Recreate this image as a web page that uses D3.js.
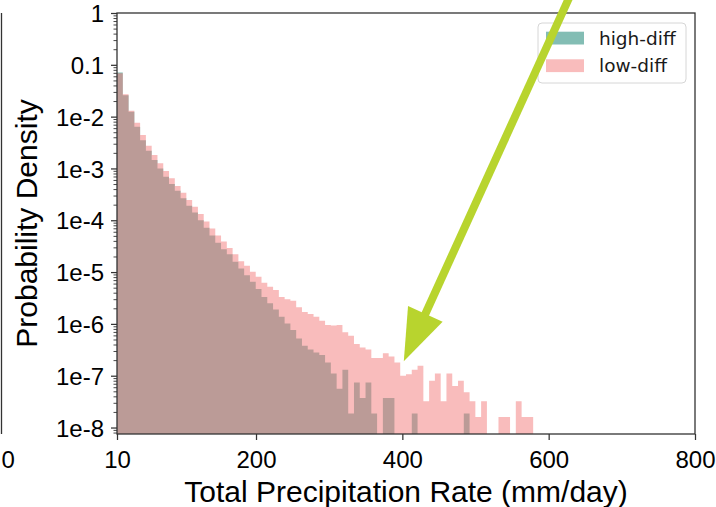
<!DOCTYPE html>
<html>
<head>
<meta charset="utf-8">
<script src="https://cdn.jsdelivr.net/npm/d3@7"></script>
<style>
  body { margin: 0; background: #fff; }
  svg { display: block; }
</style>
</head>
<body>
<div id="chart"></div>
<script>
// histogram: 100 equal bins over 10..800 mm/day, density
const binStart = 10, binEnd = 800, binCount = 100;

const lowDiff = [
  6.9e-2, 2.7e-2, 1.3e-2, 7.6e-3, 4.4e-3, 2.75e-3, 1.82e-3, 1.26e-3, 8.9e-4, 6.5e-4,
  4.6e-4, 3.4e-4, 2.45e-4, 1.82e-4, 1.32e-4, 9.5e-5, 6.9e-5, 5.1e-5, 3.9e-5, 2.9e-5,
  2.2e-5, 1.62e-5, 1.32e-5, 1.02e-5, 8.1e-6, 6.2e-6, 5.2e-6, 4.5e-6, 3.3e-6, 3.0e-6,
  2.8e-6, 2.1e-6, 1.7e-6, 1.55e-6, 1.38e-6, 1.15e-6, 9.5e-7, 9.3e-7, 9.5e-7, 6.9e-7,
  5.9e-7, 4.1e-7, 3.5e-7, 3.2e-7, 2.2e-7, 2.2e-7, 2.7e-7, 2.35e-7, 1.8e-7, 1.0e-7,
  1.07e-7, 1.3e-7, 1.55e-7, 3.2e-8, 8.0e-8, 1.1e-7, 3.2e-8, 1.1e-7, 6.3e-8, 8.0e-8,
  4.8e-8, 3.2e-8, 1.6e-8, 3.2e-8, 0, 0, 1.6e-8, 1.6e-8, 0, 3.2e-8,
  1.6e-8, 1.6e-8
];

const highDiff = [
  7.1e-2, 2.6e-2, 1.24e-2, 6.4e-3, 3.5e-3, 2.2e-3, 1.45e-3, 1.0e-3, 6.9e-4, 5.0e-4,
  3.7e-4, 2.65e-4, 1.9e-4, 1.41e-4, 1.0e-4, 7.2e-5, 5.1e-5, 3.7e-5, 2.75e-5, 2.2e-5,
  1.58e-5, 1.17e-5, 8.7e-6, 6.5e-6, 4.7e-6, 3.3e-6, 2.5e-6, 1.9e-6, 1.38e-6, 1.02e-6,
  7.6e-7, 5.2e-7, 3.8e-7, 3.2e-7, 2.8e-7, 2.5e-7, 1.8e-7, 1.1e-7, 5.6e-8, 1.3e-7,
  1.86e-8, 7.4e-8, 3.7e-8, 7.4e-8, 1.86e-8, 0, 3.7e-8, 3.7e-8, 0, 0,
  0, 1.86e-8, 0, 0, 0, 0, 0, 0, 0, 0,
  1.86e-8
];

const xTickValues = [10, 200, 400, 600, 800];
const yTickValues = [1, 1e-1, 1e-2, 1e-3, 1e-4, 1e-5, 1e-6, 1e-7, 1e-8];
const yTickLabels = ["1", "0.1", "1e-2", "1e-3", "1e-4", "1e-5", "1e-6", "1e-7", "1e-8"];
const seriesNames = ["high-diff", "low-diff"];
const seriesColors = ["rgb(7,123,105)", "rgb(243,121,121)"];

// annotation arrow, in data units
const arrowTail = [636, 3.5];
const arrowTip = [402, 1.9e-7];

const W = 716, H = 507;
const margin = { top: 13, right: 21, bottom: 73, left: 117 };
const font = "'Liberation Sans', Arial, sans-serif";
const ink = "#333";

const svg = d3.select("#chart").append("svg")
  .attr("width", W)
  .attr("height", H);

const x = d3.scaleLinear([binStart, binEnd], [margin.left, W - margin.right]);
const y = d3.scaleLog([7.5e-9, 1], [H - margin.bottom, margin.top]);
const y0 = H - margin.bottom;

const edges = d3.range(binCount + 1).map(i => binStart + i * (binEnd - binStart) / binCount);

function stepArea(vals) {
  const pts = vals.map((v, i) => [edges[i], v]);
  pts.push([edges[vals.length], vals[vals.length - 1]]);
  return d3.area()
    .curve(d3.curveStepAfter)
    .x(d => x(d[0]))
    .y0(y0)
    .y1(d => d[1] > 0 ? y(d[1]) : y0)(pts);
}

// neighbouring panel leftovers at the left edge
svg.append("line")
  .attr("x1", 1.5).attr("x2", 1.5)
  .attr("y1", margin.top).attr("y2", y0)
  .attr("stroke", ink).attr("stroke-width", 1.3);
svg.append("text")
  .attr("x", 1.5).attr("y", 468)
  .style("font-family", font).style("font-size", "24px")
  .text("0");

// histograms
[highDiff, lowDiff].forEach((vals, i) => {
  svg.append("path")
    .attr("d", stepArea(vals))
    .attr("fill", seriesColors[i])
    .attr("fill-opacity", 0.5);
});

// axes
const yMinor = [];
for (let e = -9; e <= 0; e++)
  for (let k = 2; k <= 9; k++) {
    const v = k * Math.pow(10, e);
    if (v >= 7.5e-9 && v < 1) yMinor.push(v);
  }

const gy = svg.append("g")
  .attr("transform", `translate(${margin.left},0)`)
  .call(d3.axisLeft(y).tickValues(yTickValues)
    .tickFormat((d, i) => yTickLabels[i]).tickSize(6).tickPadding(7));
svg.append("g")
  .attr("transform", `translate(${margin.left},0)`)
  .call(d3.axisLeft(y).tickValues(yMinor).tickFormat("").tickSize(3.5))
  .call(g => g.selectAll("line").attr("stroke-width", 0.9));

const gx = svg.append("g")
  .attr("transform", `translate(0,${y0})`)
  .call(d3.axisBottom(x).tickValues(xTickValues).tickSize(6).tickPadding(10.5));

svg.selectAll(".domain").remove();
svg.selectAll(".tick line").attr("stroke", ink).filter(function () {
  return !this.getAttribute("stroke-width");
}).attr("stroke-width", 1.25);
svg.selectAll(".tick text")
  .attr("fill", "#000")
  .style("font-family", font)
  .style("font-size", "24px");
gy.selectAll(".tick text").attr("dy", "0.36em");

// frame
svg.append("rect")
  .attr("x", margin.left).attr("y", margin.top)
  .attr("width", W - margin.left - margin.right)
  .attr("height", y0 - margin.top)
  .attr("fill", "none")
  .attr("stroke", ink).attr("stroke-width", 1.3);

// axis labels
svg.append("text")
  .attr("x", (margin.left + W - margin.right) / 2).attr("y", 501.5)
  .attr("text-anchor", "middle")
  .style("font-family", font).style("font-size", "30px")
  .text("Total Precipitation Rate (mm/day)");

svg.append("text")
  .attr("transform", `translate(36.5,${(margin.top + y0) / 2}) rotate(-90)`)
  .attr("text-anchor", "middle")
  .style("font-family", font).style("font-size", "30px")
  .text("Probability Density");

// legend
const legend = svg.append("g").attr("transform", "translate(538,23)");
legend.append("rect")
  .attr("width", 148).attr("height", 60).attr("rx", 4)
  .attr("fill", "#fff").attr("fill-opacity", 0.8)
  .attr("stroke", "#d6d6d6").attr("stroke-width", 1);
seriesNames.forEach((name, i) => {
  legend.append("rect")
    .attr("x", 8).attr("y", 8.7 + i * 27.6)
    .attr("width", 38).attr("height", 12.8)
    .attr("fill", seriesColors[i]).attr("fill-opacity", 0.5);
  legend.append("text")
    .attr("x", 61).attr("y", 21.5 + i * 27.8)
    .attr("fill", "#1a1a1a")
    .style("font-family", "'DejaVu Sans', sans-serif")
    .style("font-size", "18.5px")
    .text(name);
});

// arrow annotation
const tail = [x(arrowTail[0]), y(arrowTail[1])];
const tip = [x(arrowTip[0]), y(arrowTip[1])];
const dx = tip[0] - tail[0], dy = tip[1] - tail[1];
const len = Math.hypot(dx, dy);
const ux = dx / len, uy = dy / len;
const headLen = 52, headHalf = 19;
const base = [tip[0] - headLen * ux, tip[1] - headLen * uy];
const arrowColor = "#b8d42e";

svg.append("line")
  .attr("x1", tail[0]).attr("y1", tail[1])
  .attr("x2", base[0] + 2 * ux).attr("y2", base[1] + 2 * uy)
  .attr("stroke", arrowColor).attr("stroke-width", 8);
svg.append("polygon")
  .attr("points", [
    tip,
    [base[0] + headHalf * uy, base[1] - headHalf * ux],
    [base[0] - headHalf * uy, base[1] + headHalf * ux]
  ].map(p => p.join(",")).join(" "))
  .attr("fill", arrowColor);
</script>
</body>
</html>
